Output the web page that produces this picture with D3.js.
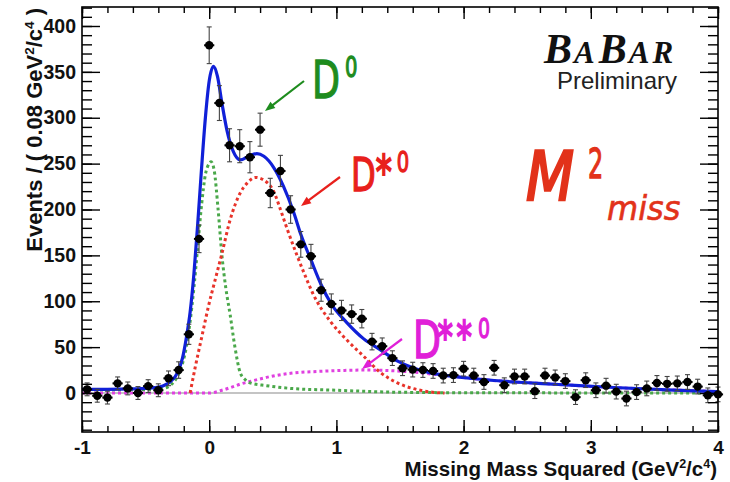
<!DOCTYPE html>
<html>
<head>
<meta charset="utf-8">
<script src="https://cdn.jsdelivr.net/npm/d3@7"></script>
<style>
body { margin: 0; background: #fff; }
svg { display: block; }
</style>
</head>
<body>
<div class="view"></div>
<script>
// bin centres (GeV^2/c^4), 0.08 wide
var binCenters = [-0.96, -0.88, -0.80, -0.72, -0.64, -0.56, -0.48, -0.40, -0.32, -0.24, -0.16, -0.08,
  0.00, 0.08, 0.16, 0.24, 0.32, 0.40, 0.48, 0.56, 0.64, 0.72, 0.80, 0.88, 0.96,
  1.04, 1.12, 1.20, 1.28, 1.36, 1.44, 1.52, 1.60, 1.68, 1.76, 1.84, 1.92,
  2.00, 2.08, 2.16, 2.24, 2.32, 2.40, 2.48, 2.56, 2.64, 2.72, 2.80, 2.88, 2.96,
  3.04, 3.12, 3.20, 3.28, 3.36, 3.44, 3.52, 3.60, 3.68, 3.76, 3.84, 3.92, 4.00];
var events = [4, -3, -5, 10.5, 5, 0, 7.5, 3, 16, 25, 64, 168,
  379, 316, 270, 269, 257, 287, 218, 242, 200, 162, 149, 112, 97,
  90, 86, 81, 56, 51, 38, 27, 25.5, 25, 24, 19, 19.5,
  26.5, 19, 12, 27.5, 8.5, 18, 18, 2, 19, 17, 13, -4.5, 14,
  3, 8, 1.5, -6, 1, 5, 11, 10, 10.5, 12, 7, -2.5, -1.5];
var errors = [7, 7, 7, 7, 7, 7, 7, 7, 8, 9, 11, 15,
  20, 19, 18, 18, 17, 18, 16, 17, 15, 14, 13, 12, 11,
  11, 10, 10, 9, 9, 8, 8, 8, 8, 8, 8, 8,
  8, 8, 8, 8, 8, 8, 8, 8, 8, 8, 8, 8, 8,
  8, 8, 8, 8, 8, 8, 8, 8, 8, 8, 8, 8, 8];

// fit curves: [x, events]
var totalFit = [[-1.0, 4], [-0.8, 4], [-0.6, 4.5], [-0.45, 5.5], [-0.36, 8], [-0.3, 13], [-0.25, 22],
  [-0.21, 38], [-0.18, 60], [-0.15, 88], [-0.12, 130], [-0.09, 185], [-0.06, 245], [-0.03, 300],
  [0.0, 340], [0.034, 356], [0.065, 345], [0.1, 316], [0.14, 286], [0.19, 263], [0.244, 254],
  [0.31, 258], [0.375, 261], [0.43, 258], [0.506, 246], [0.585, 225], [0.664, 197], [0.72, 173],
  [0.8, 145], [0.88, 118], [0.96, 97], [1.08, 77], [1.215, 59], [1.346, 47], [1.478, 35],
  [1.61, 27], [1.74, 22], [1.82, 20], [2.13, 15], [2.4, 12], [2.66, 10], [2.84, 8.5],
  [3.18, 6], [3.6, 3.5], [4.0, 1.5]];
var d0Fit = [[-1, 3.5], [-0.5, 3.5], [-0.36, 5], [-0.3, 9], [-0.25, 18], [-0.21, 32], [-0.18, 50],
  [-0.15, 78], [-0.12, 115], [-0.09, 160], [-0.06, 205], [-0.03, 238], [0.0, 250], [0.015, 252],
  [0.04, 242], [0.07, 200], [0.1, 150], [0.13, 115], [0.165, 85], [0.2, 52], [0.244, 22],
  [0.28, 15], [0.32, 11], [0.45, 8], [0.64, 5], [1.0, 3], [1.5, 0.8], [2.0, 0.3], [4.0, 0]];
var dstarFit = [[-0.15, 0], [-0.11, 28], [-0.057, 62], [-0.005, 95], [0.05, 125], [0.1, 152],
  [0.165, 189], [0.244, 218], [0.3, 229], [0.362, 235], [0.43, 232], [0.506, 220], [0.56, 200],
  [0.61, 180], [0.69, 150], [0.76, 126], [0.82, 107], [0.953, 78], [1.08, 58], [1.215, 40],
  [1.35, 22], [1.48, 11], [1.66, 3], [1.8, 0.3], [1.85, 0]];
var dstarstarFit = [[-1, 0], [0, 0], [0.1, 3], [0.19, 7], [0.25, 10], [0.32, 12.5], [0.45, 17],
  [0.64, 21.5], [0.85, 23.5], [1.03, 24.5], [1.215, 25], [1.4, 24.5], [1.66, 22], [1.82, 19.5],
  [2.0, 17], [2.13, 15], [2.4, 12], [2.66, 10], [2.84, 8.5], [3.18, 6], [3.6, 3.5], [4.0, 1.5]];

var xTicks = [-1, 0, 1, 2, 3, 4];
var xMinorTicks = d3.range(-1, 4.001, 0.2);
var yTicks = [0, 50, 100, 150, 200, 250, 300, 350, 400];
var yMinorTicks = d3.range(-40, 421, 10);

var svg = d3.select('.view')
  .append('svg')
  .attr('width', 730)
  .attr('height', 482)
  .attr('font-family', 'Liberation Sans, Arial, sans-serif');

var x = d3.scaleLinear().domain([-1, 4]).range([82, 718]);
var y = d3.scaleLinear().domain([-42.5, 420.7]).range([432, 7]);

// zero line
svg.append("line")
  .attr("x1", x(-1)).attr("x2", x(4))
  .attr("y1", y(0)).attr("y2", y(0))
  .attr("stroke", "#8a8a8a")
  .attr("stroke-width", 1.2);

// component curves
var line = d3.line()
  .x(function(d) { return x(d[0]); })
  .y(function(d) { return y(d[1]); })
  .curve(d3.curveMonotoneX);

function dotted(data, color) {
  svg.append("path")
    .datum(data)
    .attr("fill", "none")
    .attr("stroke", color)
    .attr("stroke-width", 3)
    .attr("stroke-dasharray", "3,3")
    .attr("d", line);
}
dotted(dstarstarFit, "#e040e0");
dotted(d0Fit, "#4aa84a");
dotted(dstarFit, "#e8332a");

svg.append("path")
  .datum(totalFit)
  .attr("fill", "none")
  .attr("stroke", "#1020d8")
  .attr("stroke-width", 3.2)
  .attr("d", line);

// data points with error bars
var pts = svg.append("g").selectAll("g")
  .data(binCenters.map(function(c, i) { return { x: c, n: events[i], e: errors[i] }; }))
  .enter().append("g");

pts.append("line")
  .attr("x1", function(d) { return x(d.x); })
  .attr("x2", function(d) { return x(d.x); })
  .attr("y1", function(d) { return y(d.n - d.e); })
  .attr("y2", function(d) { return y(d.n + d.e); })
  .attr("stroke", "#444").attr("stroke-width", 1.1);
[-1, 1].forEach(function(s) {
  pts.append("line")
    .attr("x1", function(d) { return x(d.x) - 2.5; })
    .attr("x2", function(d) { return x(d.x) + 2.5; })
    .attr("y1", function(d) { return y(d.n + s * d.e); })
    .attr("y2", function(d) { return y(d.n + s * d.e); })
    .attr("stroke", "#444").attr("stroke-width", 1.1);
});
pts.append("line")
  .attr("x1", function(d) { return x(d.x - 0.04); })
  .attr("x2", function(d) { return x(d.x + 0.04); })
  .attr("y1", function(d) { return y(d.n); })
  .attr("y2", function(d) { return y(d.n); })
  .attr("stroke", "#000").attr("stroke-width", 2);
pts.append("circle")
  .attr("cx", function(d) { return x(d.x); })
  .attr("cy", function(d) { return y(d.n); })
  .attr("r", 4.2)
  .attr("fill", "#000");

// axes, ticks pointing inward
function styleAxis(g) {
  g.select(".domain").remove();
  g.selectAll(".tick line").attr("stroke", "#000").attr("stroke-width", 1.4);
  g.selectAll("text")
    .attr("fill", "#111")
    .attr("font-family", "Liberation Sans, Arial, sans-serif")
    .attr("font-weight", "bold");
}

svg.append("g")
  .attr("transform", "translate(0,432)")
  .call(d3.axisBottom(x).tickValues(xMinorTicks).tickSize(-6).tickFormat(""))
  .call(styleAxis);
svg.append("g")
  .attr("transform", "translate(0,432)")
  .call(d3.axisBottom(x).tickValues(xTicks).tickSize(-12).tickPadding(9)
    .tickFormat(function(d) { return String(d); }))
  .call(styleAxis)
  .selectAll("text").attr("font-size", 19);
svg.append("g")
  .attr("transform", "translate(0,7)")
  .call(d3.axisTop(x).tickValues(xMinorTicks).tickSize(-6).tickFormat(""))
  .call(styleAxis);
svg.append("g")
  .attr("transform", "translate(0,7)")
  .call(d3.axisTop(x).tickValues(xTicks).tickSize(-12).tickFormat(""))
  .call(styleAxis);

svg.append("g")
  .attr("transform", "translate(82,0)")
  .call(d3.axisLeft(y).tickValues(yMinorTicks).tickSize(-10).tickFormat(""))
  .call(styleAxis);
svg.append("g")
  .attr("transform", "translate(82,0)")
  .call(d3.axisLeft(y).tickValues(yTicks).tickSize(-18).tickPadding(6))
  .call(styleAxis)
  .selectAll("text").attr("font-size", 19.5);
svg.append("g")
  .attr("transform", "translate(718,0)")
  .call(d3.axisRight(y).tickValues(yMinorTicks).tickSize(-10).tickFormat(""))
  .call(styleAxis);
svg.append("g")
  .attr("transform", "translate(718,0)")
  .call(d3.axisRight(y).tickValues(yTicks).tickSize(-18).tickFormat(""))
  .call(styleAxis);

// frame
svg.append("rect")
  .attr("x", 82).attr("y", 7)
  .attr("width", 636).attr("height", 425)
  .attr("fill", "none")
  .attr("stroke", "#000")
  .attr("stroke-width", 1.6);

// axis titles
var xt = svg.append("text")
  .attr("x", 717).attr("y", 476)
  .attr("text-anchor", "end")
  .attr("font-weight", "bold")
  .attr("font-size", 20.5)
  .attr("fill", "#111");
xt.append("tspan").text("Missing Mass Squared (GeV");
xt.append("tspan").attr("font-size", 12.5).attr("dy", -8).text("2");
xt.append("tspan").attr("dy", 8).text("/c");
xt.append("tspan").attr("font-size", 12.5).attr("dy", -8).text("4");
xt.append("tspan").attr("dy", 8).text(")");

var yt = svg.append("text")
  .attr("transform", "translate(42,8) rotate(-90)")
  .attr("text-anchor", "end")
  .attr("font-weight", "bold")
  .attr("font-size", 22)
  .attr("fill", "#111");
yt.append("tspan").text("Events / ( 0.08 GeV");
yt.append("tspan").attr("font-size", 13.5).attr("dy", -8).text("2");
yt.append("tspan").attr("dy", 8).text("/c");
yt.append("tspan").attr("font-size", 13.5).attr("dy", -8).text("4");
yt.append("tspan").attr("dy", 8).text(" )");

// BaBar logo
var logo = svg.append("text")
  .attr("x", 544).attr("y", 63)
  .attr("font-family", "Liberation Serif, serif")
  .attr("font-style", "italic")
  .attr("font-weight", "bold")
  .attr("fill", "#111");
logo.append("tspan").attr("font-size", 42).text("B");
logo.append("tspan").attr("font-size", 31).attr("dx", 2).text("A");
logo.append("tspan").attr("font-size", 42).attr("dx", 4).text("B");
logo.append("tspan").attr("font-size", 31).attr("dx", 2).text("A");
logo.append("tspan").attr("font-size", 31).attr("dx", 3).text("R");

svg.append("text")
  .attr("x", 677).attr("y", 89)
  .attr("text-anchor", "end")
  .attr("font-size", 24)
  .attr("fill", "#222")
  .text("Preliminary");

// labels for the fit components: one text each, pieces as tspans
// parts: [text, font-size, dx, dy, stroke-width]
function label(tx, ty, sx, parts, color, italic) {
  var t = svg.append("text")
    .attr("transform", "translate(" + tx + "," + ty + ") scale(" + sx + ",1)")
    .attr("font-family", "DejaVu Sans, sans-serif")
    .attr("font-style", italic ? "italic" : "normal")
    .attr("fill", color)
    .attr("stroke", color);
  parts.forEach(function(p) {
    t.append("tspan")
      .attr("font-size", p[1])
      .attr("dx", p[2])
      .attr("dy", p[3])
      .attr("stroke-width", p[4])
      .text(p[0]);
  });
}
function arrow(x1, y1, x2, y2, color) {
  var a = Math.atan2(y2 - y1, x2 - x1), L = 10, W = 4;
  svg.append("line")
    .attr("x1", x1).attr("y1", y1)
    .attr("x2", x2 - Math.cos(a) * 6).attr("y2", y2 - Math.sin(a) * 6)
    .attr("stroke", color).attr("stroke-width", 2.2);
  var p = [[x2, y2],
    [x2 - L * Math.cos(a) + W * Math.sin(a), y2 - L * Math.sin(a) - W * Math.cos(a)],
    [x2 - L * Math.cos(a) - W * Math.sin(a), y2 - L * Math.sin(a) + W * Math.cos(a)]];
  svg.append("polygon").attr("points", p.map(function(q) { return q.join(","); }).join(" ")).attr("fill", color);
}

var green = "#1e8c1e", red = "#e8201c", magenta = "#e020d8", orange = "#e2321a";

label(312, 98, 0.7, [["D", 52, 0, 0, 1.3], ["0", 28, 7, -21, 1.3]], green);
arrow(304, 81, 265, 111, green);

label(351, 191, 0.7, [["D", 46, 0, 0, 1.3], ["*", 46, 0, -3, 2], ["0", 28, 7, -16, 1.3]], red);
arrow(340, 177, 301, 206, red);

label(413, 358, 0.7, [["D", 52, 0, 0, 1.3], ["*", 44, -5, -5, 2], ["*", 44, 5, 0, 2], ["0", 27, 9, -15, 1.3]], magenta);
arrow(402, 339, 362, 369, magenta);

label(526, 200, 0.82, [["M", 68, 0, 0, 2.5]], orange, true);
label(588, 178, 0.6, [["2", 40, 0, 0, 1.3]], orange);
label(607, 220, 0.97, [["miss", 33, 0, 0, 0.6]], orange, true);
</script>
</body>
</html>
